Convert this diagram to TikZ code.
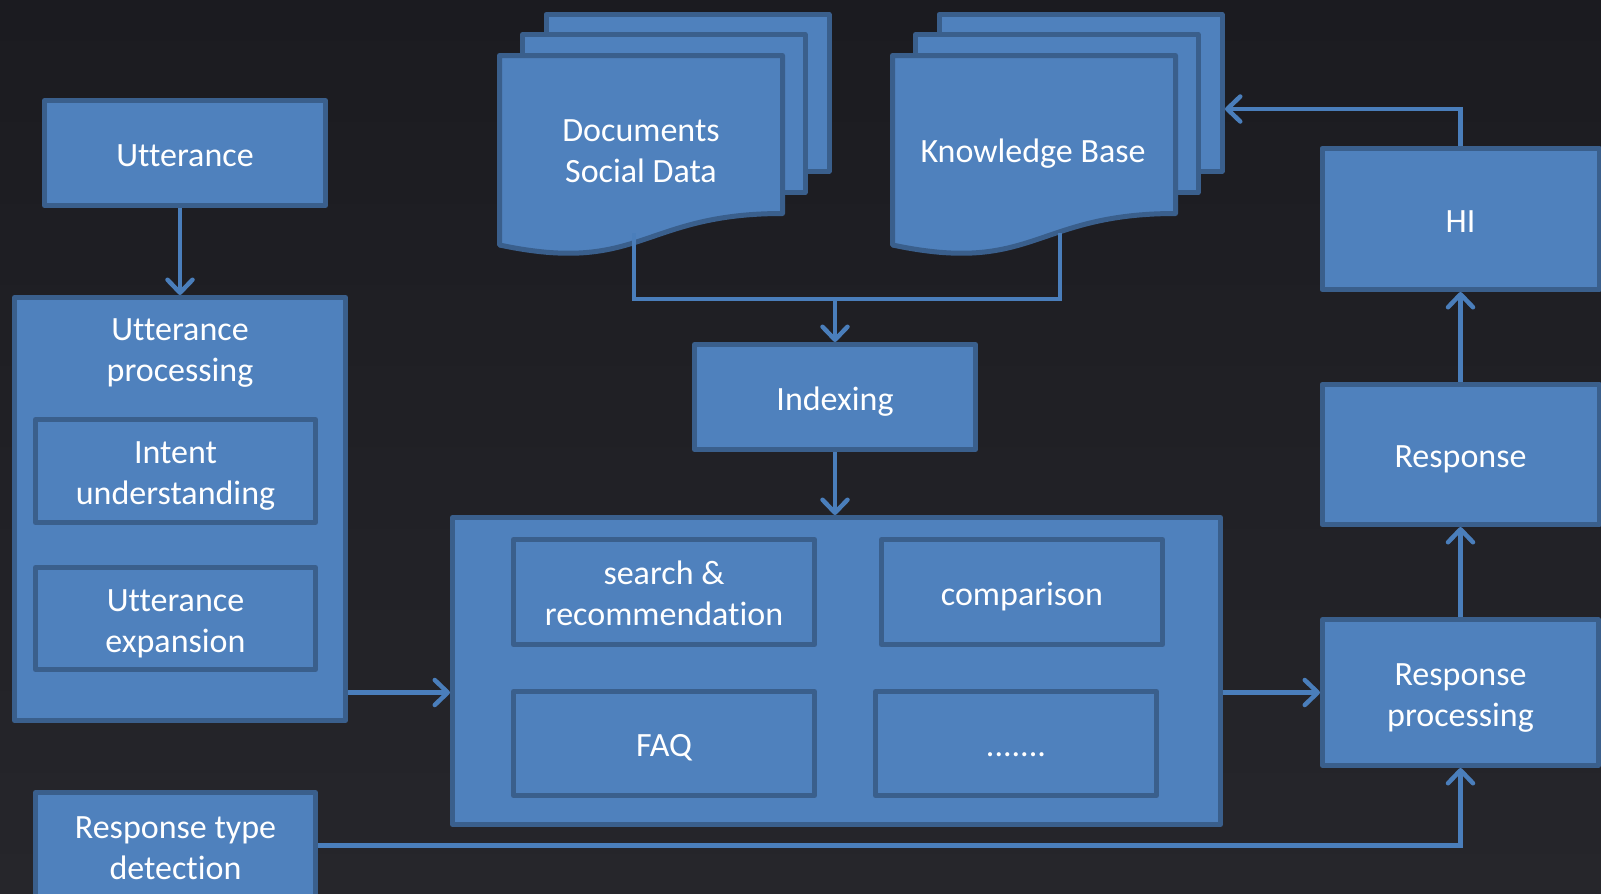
\documentclass[tikz,border=0pt]{standalone}
\usepackage{fontspec}
\setmainfont{Carlito}[Ligatures=NoCommon]
\usetikzlibrary{positioning, arrows.meta}

\definecolor{boxblue}{HTML}{4F81BD}
\definecolor{boxedge}{HTML}{3A5F8C}
\definecolor{linkblue}{HTML}{4A7EBB}
\definecolor{bgtop}{HTML}{1B1B20}
\definecolor{bgbot}{HTML}{26262B}

% three stacked pages, #1 = left edge of the front page
\newcommand{\docstack}[1]{%
  \draw[page] (#1+49,-14.5) rectangle (#1+332,-171);
  \draw[page] (#1+25.5,-34.5) rectangle (#1+308,-192.5);
  \draw[page] (#1+2.5,-55.5) -- (#1+285.5,-55.5) -- (#1+285.5,-213.5)
    .. controls (#1+144,-213.5) and (#1+144,-275) .. (#1+2.5,-245) -- cycle;
}

\begin{document}
\begin{tikzpicture}[x=1pt, y=1pt, node distance=90pt,
  box/.style={rectangle, draw=boxedge, line width=5pt, line join=round, fill=boxblue,
    text=white, align=center, inner sep=0pt, font=\fontsize{34}{41}\selectfont,
    text height=31pt, text depth=5pt},
  twoline/.style={text height=72pt, text depth=5pt},
  page/.style={draw=boxedge, line width=5pt, line join=round, fill=boxblue},
  txt/.style={text=white, align=center, font=\fontsize{34}{41}\selectfont},
  link/.style={draw=linkblue, line width=4.5pt},
  conn/.style={link, -{Straight Barb[length=13pt, width=25pt, round]}}]

  % Background
  \shade[top color=bgtop, bottom color=bgbot] (0,0) rectangle (1601,-894);
  \useasboundingbox (0,0) rectangle (1601,-894);

  % Sources
  \docstack{497}
  \docstack{890}
  \node (docs) [txt] at (641,-151) {Documents\\Social Data};
  \node (kb) [txt] at (1033,-154) {Knowledge Base};
  \coordinate (docsout) at (634,-233);
  \coordinate (kbout) at (1060,-233);
  \coordinate (join) at (834,-299);
  \coordinate (kbin) at (1225,-109);

  % Nodes
  \node (utt) [box, minimum width=281pt, minimum height=105pt] at (185,-153) {Utterance};
  \node (uproc) [box, minimum width=331pt, minimum height=423pt] at (180,-509) {};
  \node (uproctitle) [txt] at (180,-353) {Utterance\\processing};
  \node (intent) [box, twoline, minimum width=280pt, minimum height=103pt] at (175.5,-471) {Intent\\understanding};
  \node (uexp) [box, twoline, minimum width=280pt, minimum height=102pt, below=40pt of intent] {Utterance\\expansion};
  \node (rtd) [box, twoline, minimum width=280pt, minimum height=106pt] at (175.5,-845.5) {Response type\\detection};

  \node (idx) [box, minimum width=281pt, minimum height=105pt] at (835,-397) {Indexing};
  \node (main) [box, minimum width=768pt, minimum height=307pt] at (836.5,-671) {};
  \node (sr) [box, twoline, minimum width=301pt, minimum height=105pt] at (664,-592) {search \&\\recommendation};
  \node (cmp) [box, minimum width=281pt, minimum height=105pt] at (1022,-592) {comparison};
  \node (faq) [box, minimum width=301pt, minimum height=104pt, below=42pt of sr] {FAQ};
  \node (more) [box, minimum width=281pt, minimum height=104pt] at (1016,-743.5) {.......};

  \node (rproc) [box, twoline, minimum width=276pt, minimum height=146pt] at (1460.5,-692.5) {Response\\processing};
  \node (resp) [box, minimum width=277pt, minimum height=140pt, above=of rproc] {Response};
  \node (hi) [box, minimum width=277pt, minimum height=141pt, above=of resp] {HI};

  % Arrows
  \draw[conn] (uproc.north |- utt.south) -- (uproc.north);
  \draw[link] (docsout) |- (join) -| (kbout);
  \draw[conn] (join) -- (idx.north |- join) -- (idx.north);
  \draw[conn] (idx.south) -- (idx.south |- main.north);
  \draw[conn] (uproc.east |- rproc.west) -- (main.west |- rproc.west);
  \draw[conn] (main.east |- rproc.west) -- (rproc.west);
  \draw[conn] (rproc) -- (resp);
  \draw[conn] (resp) -- (hi);
  \draw[conn] (hi.north) |- (kbin);
  \draw[conn] (rtd.east) -| (rproc.south);
\end{tikzpicture}
\end{document}
